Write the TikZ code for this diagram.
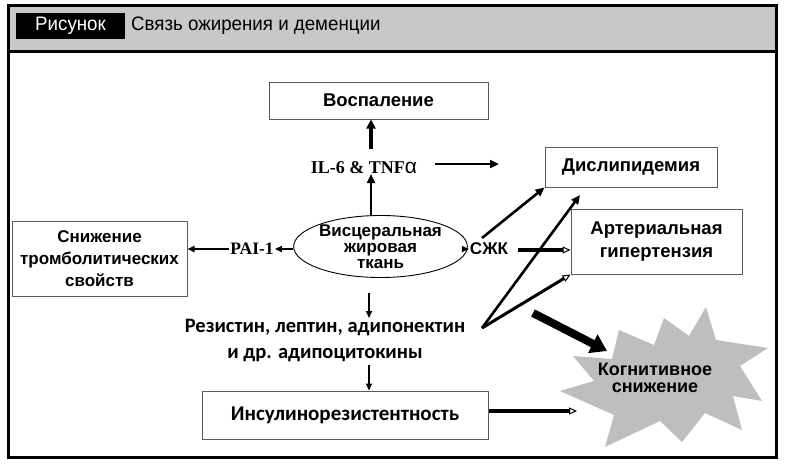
\documentclass[tikz,border=0pt]{standalone}
\usepackage{fontspec}
\setmainfont{Liberation Sans}
\newfontfamily\narrowf[FakeStretch=0.96]{Liberation Sans}
\newfontfamily\timesf{Liberation Serif}
\newfontfamily\calibf{Carlito}
\usetikzlibrary{arrows.meta,shapes.geometric}
\definecolor{hdrgray}{RGB}{200,200,200}
\definecolor{stargray}{RGB}{190,190,190}
\definecolor{boxline}{RGB}{90,90,90}
\tikzset{
  box/.style={draw=boxline, line width=1pt, fill=white, inner sep=0pt, align=center,
    font=\bfseries\fontsize{18.5}{21}\selectfont},
  serifl/.style={font=\timesf\bfseries\fontsize{18}{20}\selectfont, inner sep=1pt},
  calibl/.style={font=\calibf\bfseries\fontsize{20.5}{26}\selectfont, align=center, inner sep=1pt},
  arr/.style={line width=2.6pt, -{Triangle[length=9pt,width=8pt]}},
  arro/.style={line width=2.6pt, -{Triangle[open,length=8pt,width=7pt,line width=1pt]}},
  thin/.style={line width=1.6pt, -{Triangle[length=7pt,width=6pt]}},
}
\begin{document}
\begin{tikzpicture}[x=1pt,y=-1pt]
\useasboundingbox (0,0) rectangle (787,466);
% header
\fill[hdrgray] (8,5) rectangle (776,51);
\node[fill=black, text=white, minimum width=109pt, minimum height=26pt, inner sep=0pt,
  font=\narrowf\fontsize{19.5}{21}\selectfont] (fig) at (70.5,26) {Рисунок};
\node[anchor=west, inner sep=0pt, font=\narrowf\fontsize{19.5}{21}\selectfont] (cap) at (131,26) {Связь ожирения и деменции};
\draw[line width=3pt] (8,51) -- (776,51);
\draw[line width=3pt] (8,5) rectangle (776,457);

% nodes
\node[box, minimum width=219pt, minimum height=37pt] (vosp) at (378.5,100.5) {Воспаление};
\node[serifl] (il6) at (364,168) {IL-6 \& TNF{\rmfamily\mdseries\fontsize{21}{20}\selectfont α}};
\node[draw=black, line width=0.9pt, ellipse, minimum width=131pt, minimum height=55pt, inner sep=0pt,
  align=center, font=\bfseries\fontsize{17}{16}\selectfont] (ell) at (380.5,246.5) {Висцеральная\\жировая\\ткань};
\node[font=\bfseries\fontsize{17}{20}\selectfont, inner sep=1pt] (szhk) at (489,249) {СЖК};
\node[box, minimum width=172pt, minimum height=40pt] (dys) at (631,167) {Дислипидемия};
\node[box, minimum width=171pt, minimum height=65pt, font=\bfseries\fontsize{18.5}{23}\selectfont] (art) at (656.5,241.5) {Артериальная\\гипертензия};
\node[box, minimum width=175pt, minimum height=75pt, font=\bfseries\fontsize{17}{22}\selectfont] (sniz) at (99.5,258.5) {Снижение\\тромболитических\\свойств};
\node[serifl, font=\timesf\bfseries\fontsize{17.5}{20}\selectfont] (pai) at (252,249) {PAI-1};
\node[calibl] (rez) at (325,340) {Резистин, лептин, адипонектин\\и др. адипоцитокины};
\node[box, minimum width=286pt, minimum height=48pt, font=\calibf\bfseries\fontsize{21}{22}\selectfont] (ins) at (345,415) {Инсулинорезистентность};

% starburst
\fill[stargray] (706,307) -- (716,340) -- (768,348) -- (740,366) -- (762,401) -- (733,396)
  -- (742,430) -- (705,413) -- (682,442) -- (660,421) -- (605,447) -- (614,415)
  -- (560,391) -- (594,381) -- (573,356) -- (612,359) -- (619,330) -- (654,345)
  -- (664,318) -- (689,336) -- cycle;
\node[font=\bfseries\fontsize{18}{17}\selectfont, align=center, inner sep=0pt] (cog) at (655,378) {Когнитивное\\снижение};

% connectors
\coordinate (il6b) at (371,174);
\coordinate (il6t) at (371,149);
\coordinate (il6r) at (435,164);
\coordinate (il6rt) at (499,164);
\draw[arr, line width=2pt] (ell.north -| il6b) -- (il6b);
\draw[line width=3.6pt, -{Triangle[length=9pt,width=9pt]}] (il6t) -- (vosp.south -| il6t);
\draw[arr] (il6r) -- (il6rt);

\draw[thin] (ell.east |- szhk) -- (szhk.west);
\coordinate (sj1) at (482,238);
\coordinate (sj2) at (518,250);
\draw[arr] (sj1) -- (dys.south west);
\draw[arro, line width=3.4pt] (sj2) -- (art.west |- sj2);

\coordinate (pair) at (312,249);
\draw[thin, line width=2.4pt] (ell.west |- pair) -- (pai.east);
\draw[thin, line width=2.4pt] (pai.west) -- (sniz.east |- pai);

\coordinate (ed1) at (369,293);
\coordinate (ed2) at (369,318);
\coordinate (ed3) at (369,365);
\draw[thin] (ed1) -- (ed2);
\draw[thin] (ed3) -- (ins.north -| ed3);

\coordinate (rj) at (482,328);
\coordinate (dyt) at (580,195);
\draw[arr] (rj) -- (dyt);
\draw[arro, line width=3pt] (rj) -- (art.south west);
\coordinate (cs) at (533,313);
\coordinate (ct) at (607,351);
\draw[line width=8pt, -{Triangle[length=16pt,width=20pt]}] (cs) -- (ct);

\coordinate (ie) at (577,411);
\draw[arro, line width=3.4pt] (ins.east |- ie) -- (ie);
\end{tikzpicture}
\end{document}
